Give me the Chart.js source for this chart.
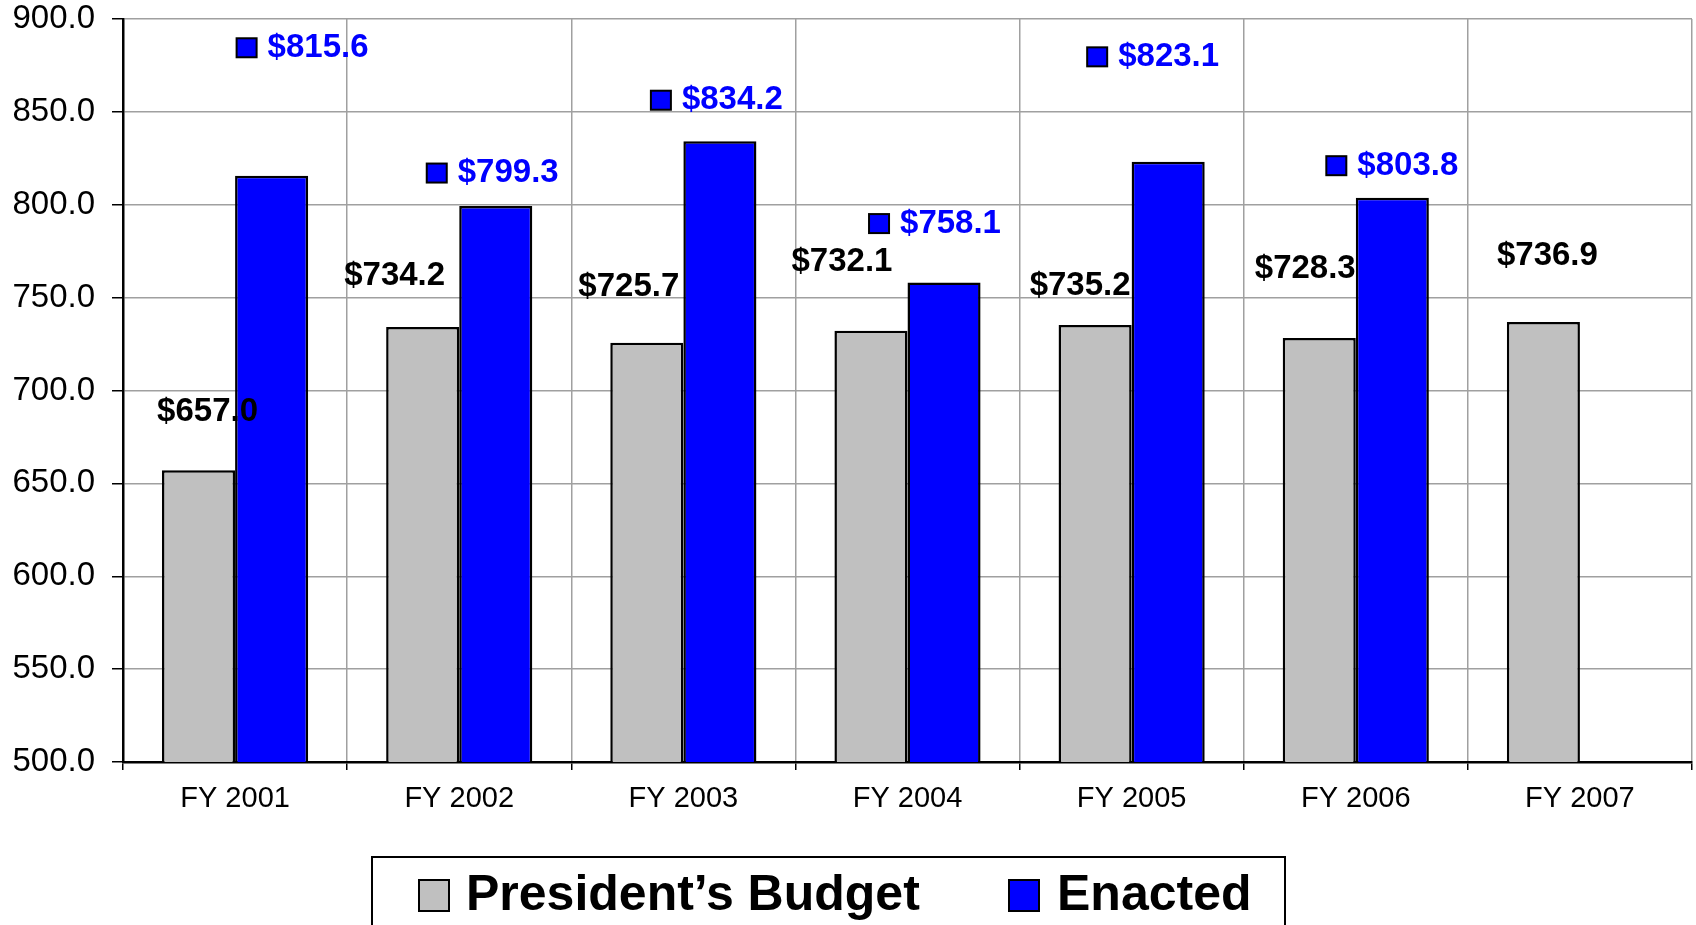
<!DOCTYPE html>
<html>
<head>
<meta charset="utf-8">
<script src="https://cdn.jsdelivr.net/npm/chart.js@4.4.1/dist/chart.umd.min.js"></script>
<style>
  html, body { margin: 0; padding: 0; background: #fff; }
  #wrap { width: 1696px; height: 925px; }
</style>
</head>
<body>
<div id="wrap"><canvas id="myChart"></canvas></div>
<script>
var years = ["FY 2001", "FY 2002", "FY 2003", "FY 2004", "FY 2005", "FY 2006", "FY 2007"];
var presidentsBudget = [657.0, 734.2, 725.7, 732.1, 735.2, 728.3, 736.9];
var enacted = [815.6, 799.3, 834.2, 758.1, 823.1, 803.8, null];
var yTicks = [500, 550, 600, 650, 700, 750, 800, 850, 900];

// label nudges in px, relative to the top centre of each bar (Excel had them dragged by hand)
var budgetNudge = [[9, -58], [-28, -51], [-18, -56], [-29, -69], [-15, -39], [-14, -69], [4, -66]];
var enactedNudge = [[-4, -128], [-38, -33], [-38, -41], [-44, -59], [-50, -105], [-35, -32], [0, 0]];

var FONT = "'Liberation Sans', Arial, sans-serif";
Chart.defaults.font.family = FONT;
Chart.defaults.color = "#000";

const labelPlugin = {
    id: "valueLabels",
    afterDatasetsDraw(chart) {
        const ctx = chart.ctx;
        ctx.save();
        ctx.font = "bold 33px " + FONT;
        ctx.textBaseline = "middle";
        chart.getDatasetMeta(0).data.forEach((bar, i) => {
            ctx.fillStyle = "#000";
            ctx.textAlign = "center";
            ctx.fillText("$" + presidentsBudget[i].toFixed(1), bar.x + budgetNudge[i][0], bar.y + budgetNudge[i][1]);
        });
        chart.getDatasetMeta(1).data.forEach((bar, i) => {
            if (enacted[i] == null) return;
            var tx = bar.x + enactedNudge[i][0];
            var ty = bar.y + enactedNudge[i][1];
            ctx.fillStyle = "#0000ff";
            ctx.fillRect(tx - 31, ty - 9.5, 20, 19);
            ctx.lineWidth = 2;
            ctx.strokeStyle = "#000";
            ctx.strokeRect(tx - 31, ty - 9.5, 20, 19);
            ctx.fillStyle = "#0000ff";
            ctx.textAlign = "left";
            ctx.fillText("$" + enacted[i].toFixed(1), tx, ty);
        });
        ctx.restore();
    }
};

const legendBox = {
    id: "legendBox",
    afterDraw(chart) {
        const ctx = chart.ctx;
        ctx.save();
        ctx.lineWidth = 2;
        ctx.strokeStyle = "#000";
        ctx.strokeRect(372, 857, 913, 100);
        ctx.font = "bold 50px " + FONT;
        ctx.textBaseline = "middle";
        ctx.textAlign = "left";
        [["President\u2019s Budget", "#c0c0c0", 419, 466], ["Enacted", "#0000ff", 1009, 1057]].forEach(item => {
            ctx.fillStyle = item[1];
            ctx.fillRect(item[2], 880, 30, 31);
            ctx.lineWidth = 2;
            ctx.strokeRect(item[2], 880, 30, 31);
            ctx.fillStyle = "#000";
            ctx.fillText(item[0], item[3], 896);
        });
        ctx.restore();
    }
};

const data = {
    labels: years,
    datasets: [
        {
            label: "President\u2019s Budget",
            backgroundColor: "#c0c0c0",
            borderColor: "#000",
            borderWidth: 2.5,
            borderSkipped: false,
            categoryPercentage: 0.652,
            barPercentage: 1.0,
            data: presidentsBudget
        },
        {
            label: "Enacted",
            backgroundColor: "#0000ff",
            borderColor: "#000",
            borderWidth: 2.5,
            borderSkipped: false,
            categoryPercentage: 0.652,
            barPercentage: 1.0,
            data: enacted
        }
    ]
};

const config = {
    type: "bar",
    data: data,
    options: {
        responsive: true,
        maintainAspectRatio: false,
        devicePixelRatio: 1,
        animation: false,
        layout: { padding: { left: 0, right: 4, top: 19, bottom: 0 } },
        plugins: { legend: { display: false }, tooltip: { enabled: false } },
        scales: {
            x: {
                grid: { color: "#a0a0a0", lineWidth: 1.5, tickColor: "#000", tickLength: 8, offset: true },
                border: { color: "#000", width: 2.5 },
                ticks: { font: { size: 29 }, color: "#000", padding: 12, maxRotation: 0 },
                afterFit(s) { s.height = 163; s.paddingLeft = 0; s.paddingRight = 0; }
            },
            y: {
                min: yTicks[0],
                max: yTicks[yTicks.length - 1],
                afterBuildTicks(s) { s.ticks = yTicks.map(v => ({ value: v })); },
                grid: { color: "#a0a0a0", lineWidth: 1.5, tickColor: "#000", tickLength: 11 },
                border: { color: "#000", width: 2.5 },
                ticks: { font: { size: 33 }, color: "#000", padding: 17, callback: v => Number(v).toFixed(1) },
                afterFit(s) { s.width = 123; s.paddingTop = 0; s.paddingBottom = 0; }
            }
        }
    },
    plugins: [labelPlugin, legendBox]
};
const myChart = new Chart(document.getElementById("myChart"), config);
</script>
</body>
</html>
